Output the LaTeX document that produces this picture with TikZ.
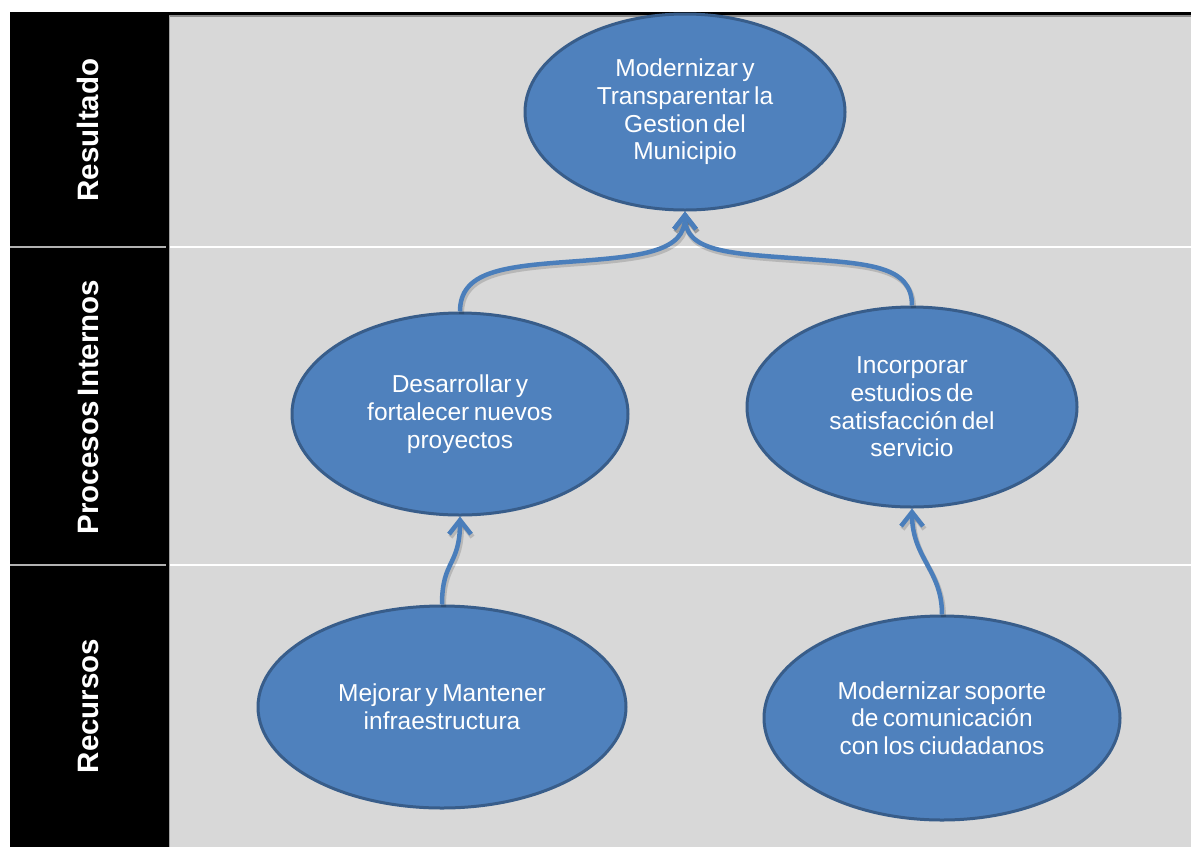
\documentclass[tikz,border=0pt]{standalone}
\usepackage{fontspec}
\setmainfont{Liberation Sans}[WordSpace=0.65]
\usetikzlibrary{shapes.geometric,arrows.meta,calc}
\definecolor{panel}{HTML}{D8D8D8}
\definecolor{nodefill}{HTML}{4F81BD}
\definecolor{nodeedge}{HTML}{385D8A}
\definecolor{linkblue}{HTML}{4A7EBB}
\definecolor{rulegray}{HTML}{8C8C8C}
\begin{document}
\begin{tikzpicture}[x=1pt,y=-1pt,
  goal/.style={ellipse, fill=nodefill, draw=nodeedge, line width=3pt,
    inner sep=0pt, text=white, align=center,
    font=\fontsize{24.5}{27.7}\selectfont},
  band/.style={text=white, rotate=90, font=\bfseries\fontsize{29.5}{33}\selectfont},
  link/.style={draw=linkblue, line width=4.5pt,
    -{Straight Barb[length=14pt,width=22pt]}},
  linkshadow/.style={draw=black, opacity=0.15, line width=5pt,
    -{Straight Barb[length=14pt,width=22pt]},
    transform canvas={shift={(1.5pt,-2.5pt)}}}]
% page and background panels
\fill[white] (0,0) rectangle (1191,847);
\useasboundingbox (0,0) rectangle (1191,847);
\fill[black] (10,12) rectangle (1191,847);
\fill[panel] (169,16) rectangle (1191,847);
\draw[rulegray, line width=1.2pt] (169,16) -- (1191,16);
\draw[rulegray!80, line width=1pt] (169.5,16) -- (169.5,847);
% row separators
\draw[white, line width=2pt] (170,247) -- (1191,247);
\draw[white, line width=2pt] (170,565) -- (1191,565);
\draw[gray!60, line width=1.5pt] (10,247) -- (166,247);
\draw[gray!60, line width=1.5pt] (10,565) -- (166,565);
% row titles
\node[band] (lres) at (88,130) {Resultado};
\node[band] (lpro) at (88,407) {Procesos Internos};
\node[band] (lrec) at (88,706) {Recursos};
% objectives
\node[goal, minimum width=320, minimum height=196] (res) at (685,112)
  {Modernizar y\\Transparentar la\\Gestion del\\Municipio};
\node[goal, minimum width=336, minimum height=202] (dev) at (460,414)
  {Desarrollar y\\fortalecer nuevos\\proyectos};
\node[goal, minimum width=330, minimum height=200] (inc) at (912,407)
  {Incorporar\\estudios de\\satisfacción del\\servicio};
\node[goal, minimum width=368, minimum height=202] (mej) at (442,707)
  {Mejorar y Mantener\\infraestructura};
\node[goal, minimum width=356, minimum height=204] (mod) at (942,718)
  {Modernizar soporte\\de comunicación\\con los ciudadanos};
% bends of the two links into the result
\coordinate (bendL) at ($(dev.north)!0.5!(res.south)$);
\coordinate (bendR) at ($(inc.north)!0.5!(res.south)$);
% cause-effect links (shadow first, then the line)
\foreach \s in {linkshadow,link}{
  \draw[\s] (dev.north) .. controls +(0,-40) and +(-70,5) .. (bendL)
            .. controls +(70,-5) and +(0,40) .. (res.south);
  \draw[\s] (inc.north) .. controls +(0,-40) and +(70,5) .. (bendR)
            .. controls +(-70,-5) and +(0,40) .. (res.south);
  \draw[\s] (mej.north) .. controls +(0,-45) and +(0,50) .. (dev.south);
  \draw[\s] (mod.north) .. controls +(0,-45) and +(0,50) .. (inc.south);
}
\end{tikzpicture}
\end{document}
